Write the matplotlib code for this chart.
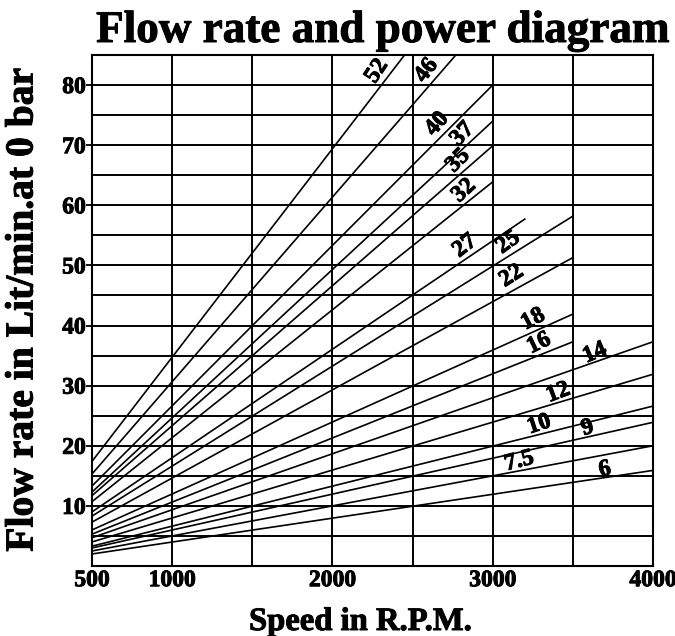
"""
Flow rate and power diagram: flow (L/min at 0 bar) against speed (RPM)
for a range of pump sizes. Straight lines, one per size, black on white.
"""

import math

import matplotlib
matplotlib.use("Agg")
import matplotlib.pyplot as plt
import matplotlib.patheffects as pe
from matplotlib.ticker import MultipleLocator

# --- data ------------------------------------------------------------------
models = ["52", "46", "40", "37", "35", "32", "27", "25", "22",
          "18", "16", "14", "12", "10", "9", "7.5", "6"]
start_speed = 500
flow_at_start = [17.4, 15.3, 13.3, 12.3, 11.7, 10.7, 9.0, 8.3, 7.3,
                 6.0, 5.3, 4.7, 4.0, 3.3, 3.0, 2.5, 2.0]
end_speed = [2450, 2770, 3000, 3000, 3000, 3000, 3200, 3500, 3500,
             3500, 3500, 4000, 4000, 4000, 4000, 4000, 4000]
end_flow = [85.0, 85.0, 80.0, 74.0, 69.9, 63.9, 57.7, 58.2, 51.3,
            41.9, 37.3, 37.3, 31.9, 26.6, 23.9, 20.0, 15.9]

speed_ticks = [500, 1000, 2000, 3000, 4000]
flow_ticks = [10, 20, 30, 40, 50, 60, 70, 80]

# where each size label sits (speed, flow)
label_pos = [(2278, 82.3), (2588, 82.4), (2654, 73.5), (2812, 71.8),
             (2785, 67.4), (2821, 62.4), (2827, 53.2), (3097, 53.8),
             (3118, 48.2), (3253, 41.0), (3289, 37.0), (3638, 35.4),
             (3409, 28.8), (3290, 23.5), (3592, 22.9), (3166, 17.4),
             (3700, 16.0)]

plt.rcParams["font.family"] = ["Liberation Serif", "DejaVu Serif"]
plt.rcParams["font.weight"] = "bold"

HEAVY = [pe.withStroke(linewidth=0.7, foreground="black")]

W, H = 675, 636
fig = plt.figure(figsize=(W / 100, H / 100), dpi=100)
ax = fig.add_axes([92 / W, (H - 566) / H, (653 - 92) / W, (566 - 55) / H])

ax.set_xlim(500, 4000)
ax.set_ylim(0, 85)

ax.set_xticks(speed_ticks)
ax.set_xticklabels([str(t) for t in speed_ticks])
ax.xaxis.set_minor_locator(MultipleLocator(500))
ax.set_yticks(flow_ticks)
ax.yaxis.set_minor_locator(MultipleLocator(5))

ax.grid(True, which="both", color="black", linewidth=1.4)
ax.set_axisbelow(True)
ax.tick_params(axis="x", which="both", length=0, pad=3, labelsize=17)
ax.tick_params(axis="y", which="major", length=4, width=1.3, pad=0.5, labelsize=17)
ax.tick_params(axis="y", which="minor", length=0)
for lab in ax.get_xticklabels() + ax.get_yticklabels():
    lab.set_fontweight("bold")
    lab.set_path_effects(HEAVY)
for spine in ax.spines.values():
    spine.set_linewidth(1.5)

for name, f0, xs, fe, (lx, ly) in zip(models, flow_at_start, end_speed, end_flow, label_pos):
    ax.plot([start_speed, xs], [f0, fe], color="black", linewidth=1.2)
    p0 = ax.transData.transform((start_speed, f0))
    p1 = ax.transData.transform((xs, fe))
    angle = math.degrees(math.atan2(p1[1] - p0[1], p1[0] - p0[0]))
    ax.text(lx, ly, name, rotation=angle + 4, rotation_mode="anchor",
            ha="center", va="center", fontsize=17, fontweight="bold",
            path_effects=HEAVY)

fig.text(383 / W, 1 - 42 / H, "Flow rate and power diagram", ha="center",
         va="baseline", fontsize=32.5, fontweight="bold", path_effects=HEAVY)
fig.text(23 / W, 1 - 310 / H, "Flow rate in Lit/min.at 0 bar", rotation=90,
         ha="center", va="center", fontsize=28.5, fontweight="bold",
         path_effects=HEAVY)
fig.text(360 / W, 1 - 630 / H, "Speed in R.P.M.", ha="center",
         va="baseline", fontsize=23.5, fontweight="bold", path_effects=HEAVY)

fig.savefig("out.png", dpi=100, facecolor="white")
